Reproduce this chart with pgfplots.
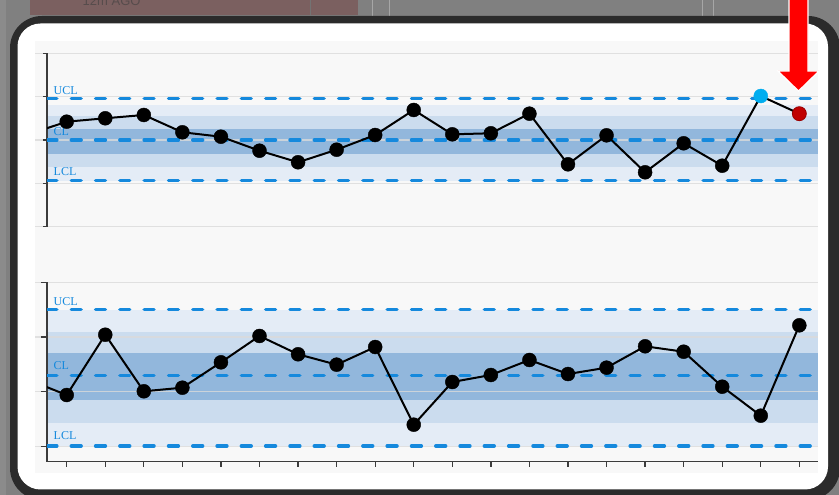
\documentclass[border=0pt]{standalone}
\usepackage{pgfplots}
\pgfplotsset{compat=1.18}
\usepackage{fontspec}
\setmainfont{Liberation Serif}
\newfontfamily\uisans{Liberation Sans}

\definecolor{pagegrey}{RGB}{128,128,128}
\definecolor{stripgrey}{RGB}{139,139,139}
\definecolor{tabbrown}{RGB}{123,96,96}
\definecolor{tabtext}{RGB}{87,76,76}
\definecolor{framedark}{RGB}{43,43,43}
\definecolor{plotbg}{RGB}{248,248,248}
\definecolor{gridgrey}{RGB}{218,218,218}
\definecolor{axisgrey}{RGB}{60,60,60}
\definecolor{bandlight}{RGB}{228,236,246}
\definecolor{bandmid}{RGB}{203,220,238}
\definecolor{banddark}{RGB}{146,183,220}
\definecolor{lineblue}{RGB}{21,137,221}
\definecolor{ptcyan}{RGB}{0,173,239}
\definecolor{ptred}{RGB}{192,0,0}

\tikzset{
  gridl/.style={draw=gridgrey, line width=1.2pt, opacity=0.8},
  ctl/.style={lineblue, line width=3.5pt, line cap=round, dash pattern=on 9.8pt off 14.5pt},
  axl/.style={draw=axisgrey, line width=1.3pt},
  lbl/.style={anchor=base west, inner sep=0pt, text=lineblue, font=\fontsize{12}{14}\selectfont},
}
\pgfplotsset{
  chart/.style={
    anchor=south west, scale only axis, width=771pt,
    xmin=0.489, xmax=20.484, hide axis, clip mode=individual,
  },
  dots/.style={only marks, mark=*, mark size=7pt, mark options={draw=black, fill=black}},
}

\begin{document}
\begin{tikzpicture}[x=1pt,y=1pt]
\useasboundingbox (0,0) rectangle (839,495);
% screen behind the card
\fill[pagegrey] (-5,-5) rectangle (845,500);
\fill[stripgrey] (-5,-5) rectangle (6,500);
\fill[tabbrown] (30,480) rectangle (358,500);
\draw[black!55, line width=0.8pt] (310.5,480) -- (310.5,500);
\draw[white!65!black, line width=0.8pt] (372,479) -- (372,500);
\draw[white!65!black, line width=0.8pt] (389,479) -- (389,500);
\draw[white!65!black, line width=0.8pt] (702.5,479) -- (702.5,500);
\draw[white!65!black, line width=0.8pt] (713,479) -- (713,500);
\node[anchor=base west, inner sep=0pt, text=tabtext, font=\uisans\fontsize{13}{15}\selectfont] at (82.5,489) {12m AGO};
% card
\fill[framedark, rounded corners=32pt] (10,-5) rectangle (840,479);
\fill[white, rounded corners=23pt] (17.5,5.5) rectangle (828,471.5);
\fill[plotbg] (35,22.3) rectangle (818,454);

% ---- upper chart ----
\begin{axis}[chart, at={(47pt,268.3pt)}, height=173.4pt, ymin=0, ymax=4]
\addplot[fill=bandlight, draw=none] coordinates {(0.489,1.054) (20.484,1.054) (20.484,2.807) (0.489,2.807)} -- cycle;
\addplot[fill=bandmid, draw=none] coordinates {(0.489,1.370) (20.484,1.370) (20.484,2.554) (0.489,2.554)} -- cycle;
\addplot[fill=banddark, draw=none] coordinates {(0.489,1.677) (20.484,1.677) (20.484,2.254) (0.489,2.254)} -- cycle;
\pgfplotsinvokeforeach{0,...,4}{\draw[gridl] (0.178,#1) -- (20.484,#1);}
\draw[axl] (0.385,4) -- (0.489,4) -- (0.489,0) -- (0.385,0);
\pgfplotsinvokeforeach{1,2,3}{\draw[axl] (0.385,#1) -- (0.489,#1);}
\addplot[ctl] coordinates {(0.489,2.957) (20.484,2.957)};
\addplot[ctl] coordinates {(0.489,2.000) (20.484,2.000)};
\addplot[ctl] coordinates {(0.489,1.066) (20.484,1.066)};
\node[lbl] at (0.658,3.045) {UCL};
\node[lbl] at (0.658,2.099) {CL};
\node[lbl] at (0.658,1.170) {LCL};
\addplot[black, line width=2pt, no markers] coordinates {
(0,2.129) (1,2.422) (2,2.501) (3,2.577) (4,2.178) (5,2.076) (6,1.753)
(7,1.486) (8,1.776) (9,2.115) (10,2.692) (11,2.131) (12,2.155) (13,2.607)
(14,1.439) (15,2.108) (16,1.255) (17,1.924) (18,1.407) (19,3.015) (20,2.607)
};
\addplot[dots] coordinates {
(1,2.422) (2,2.501) (3,2.577) (4,2.178) (5,2.076) (6,1.753)
(7,1.486) (8,1.776) (9,2.115) (10,2.692) (11,2.131) (12,2.155) (13,2.607)
(14,1.439) (15,2.108) (16,1.255) (17,1.924) (18,1.407)
};
\addplot[only marks, mark=*, mark size=7pt, mark options={draw=ptcyan, fill=ptcyan}] coordinates {(19,3.015)};
\addplot[only marks, mark=*, mark size=7pt, mark options={draw=ptred!80!black, fill=ptred, line width=0.8pt}] coordinates {(20,2.607)};
\end{axis}

% ---- lower chart ----
\begin{axis}[chart, at={(47pt,33.3pt)}, height=179.4pt, ymin=-0.282, ymax=3]
\addplot[fill=bandlight, draw=none] coordinates {(0.489,0) (20.484,0) (20.484,2.493) (0.489,2.493)} -- cycle;
\addplot[fill=bandmid, draw=none] coordinates {(0.489,0.432) (20.484,0.432) (20.484,2.091) (0.489,2.091)} -- cycle;
\addplot[fill=banddark, draw=none] coordinates {(0.489,0.847) (20.484,0.847) (20.484,1.707) (0.489,1.707)} -- cycle;
\pgfplotsinvokeforeach{0,...,3}{\draw[gridl] (0.178,#1) -- (20.484,#1);}
\draw[axl] (0.333,3) -- (0.489,3) -- (0.489,-0.282) -- (20.484,-0.282);
\pgfplotsinvokeforeach{0,1,2}{\draw[axl] (0.333,#1) -- (0.489,#1);}
\pgfplotsinvokeforeach{1,...,20}{\draw[axl] (#1,-0.282) -- (#1,-0.379);}
\addplot[ctl] coordinates {(0.489,2.499) (20.484,2.499)};
\addplot[ctl] coordinates {(0.489,1.291) (20.484,1.291)};
\addplot[ctl] coordinates {(0.489,0.005) (20.484,0.005)};
\node[lbl] at (0.658,2.579) {UCL};
\node[lbl] at (0.658,1.396) {CL};
\node[lbl] at (0.658,0.115) {LCL};
\addplot[black, line width=2pt, no markers] coordinates {
(0,1.220) (1,0.938) (2,2.041) (3,1.006) (4,1.072) (5,1.536) (6,2.018)
(7,1.683) (8,1.493) (9,1.816) (10,0.395) (11,1.176) (12,1.304) (13,1.579)
(14,1.322) (15,1.438) (16,1.829) (17,1.730) (18,1.090) (19,0.560) (20,2.213)
};
\addplot[dots] coordinates {
(1,0.938) (2,2.041) (3,1.006) (4,1.072) (5,1.536) (6,2.018)
(7,1.683) (8,1.493) (9,1.816) (10,0.395) (11,1.176) (12,1.304) (13,1.579)
(14,1.322) (15,1.438) (16,1.829) (17,1.730) (18,1.090) (19,0.560) (20,2.213)
};
\end{axis}

% red pointer
\fill[red, draw=white, line width=1.2pt] (789,500) -- (808,500) -- (808,424) -- (819,424)
  -- (798.5,404) -- (778,424) -- (789,424) -- cycle;
\end{tikzpicture}
\end{document}
